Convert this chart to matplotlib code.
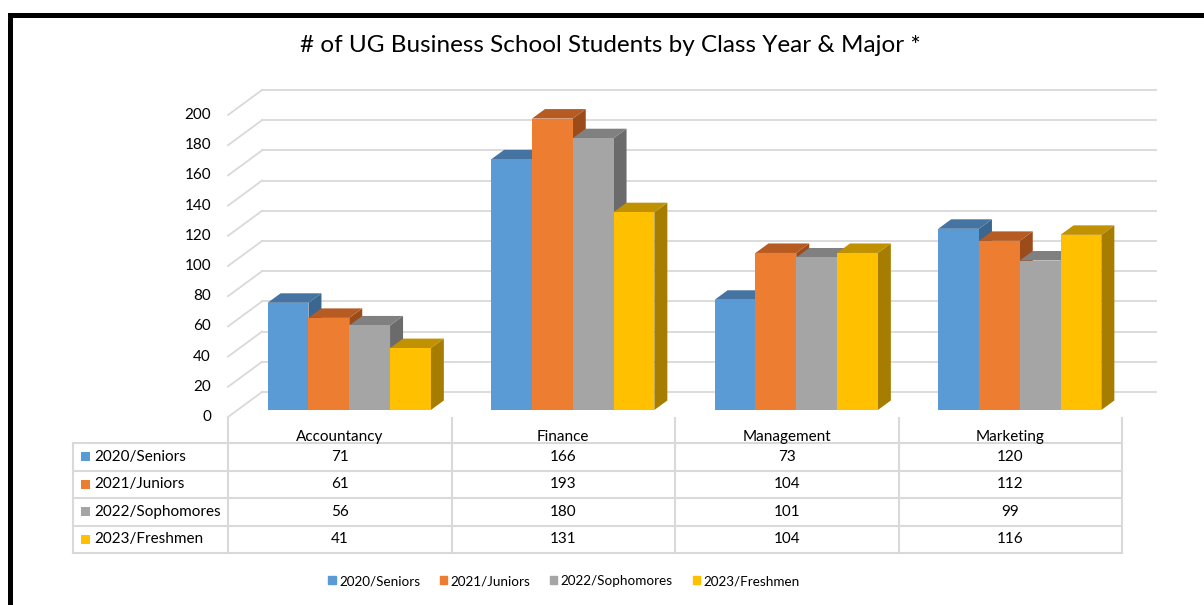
import numpy as np
import matplotlib
matplotlib.use('Agg')
import matplotlib.pyplot as plt
from matplotlib.patches import Polygon, Patch

# data
majors = ['Accountancy', 'Finance', 'Management', 'Marketing']
classes = ['2020/Seniors', '2021/Juniors', '2022/Sophomores', '2023/Freshmen']
seniors = [71, 166, 73, 120]
juniors = [61, 193, 104, 112]
sophomores = [56, 180, 101, 99]
freshmen = [41, 131, 104, 116]
series = [seniors, juniors, sophomores, freshmen]
yticks = list(range(0, 201, 20))
title = '# of UG Business School Students by Class Year & Major *'

front_colors = ['#5B9BD5', '#ED7D31', '#A5A5A5', '#FFC000']
top_colors = ['#4674A2', '#B65C22', '#808080', '#C09100']
side_colors = ['#3A6690', '#9C4B1B', '#6B6B6B', '#A67D00']
grid_c = '#D9D9D9'

W, H = 1204, 605
plt.rcParams['font.family'] = ['Lato', 'DejaVu Sans']
fig = plt.figure(figsize=(W/100, H/100), dpi=100)

# overlay in pixel coords for table, frame
ov = fig.add_axes([0, 0, 1, 1], zorder=0)
ov.set_xlim(0, W)
ov.set_ylim(H, 0)
ov.axis('off')

# bar plane axes
ax = fig.add_axes([237.5/W, 1-410/H, 894/W, 302/H], zorder=1)
ax.set_xlim(-0.5, 3.5)
ax.set_ylim(0, 200)
ax.axis('off')

ux = 894/4      # px per category
uy = 302/200    # px per unit
back = (24.5/ux, 18/uy)
front = (-9.5/ux, -7/uy)
depth = (13/ux, 9.5/uy)
bw = 40.8/ux

# walls / gridlines
for v in yticks:
    ax.plot([-0.5+back[0], 3.5+back[0]], [v+back[1]]*2, color=grid_c, lw=1.3,
            clip_on=False, zorder=1)
    ax.plot([-0.5+front[0], -0.5+back[0]], [v+front[1], v+back[1]], color=grid_c,
            lw=1.3, clip_on=False, zorder=1)
    ax.text(-0.5+front[0]-17/ux, v+front[1], str(v), ha='right', va='center',
            fontsize=11, color='#000000')

# 3d bars
for j in range(len(majors)):
    for i, vals in enumerate(series):
        h = vals[j]
        x0 = j + (i-2)*bw
        x1 = x0 + bw
        z = 2 + i*0.1
        side = Polygon([(x1, 0), (x1+depth[0], depth[1]), (x1+depth[0], h+depth[1]), (x1, h)],
                       closed=True, fc=side_colors[i], ec='none', zorder=z, clip_on=False)
        top = Polygon([(x0, h), (x0+depth[0], h+depth[1]), (x1+depth[0], h+depth[1]), (x1, h)],
                      closed=True, fc=top_colors[i], ec='none', zorder=z, clip_on=False)
        ax.add_patch(side)
        ax.add_patch(top)
        ax.bar(x0, h, width=bw, align='edge', color=front_colors[i], zorder=z+0.05,
               clip_on=False, linewidth=0)

# data table
col_edges = [237.5 + k*ux - 9.5 for k in range(len(majors)+1)]
row_lines = [443, 470.5, 498, 525.5, 553]
tab_left = 73
for y in row_lines:
    ov.plot([tab_left, col_edges[-1]], [y, y], color=grid_c, lw=1.5)
ov.plot([tab_left, tab_left], [row_lines[0], row_lines[-1]], color=grid_c, lw=1.5)
for x in col_edges:
    ov.plot([x, x], [418, row_lines[-1]], color=grid_c, lw=1.5)
for k, m in enumerate(majors):
    cx = (col_edges[k] + col_edges[k+1]) / 2
    ov.text(cx, 437, m, ha='center', va='center', fontsize=11)
for i, (c, vals) in enumerate(zip(classes, series)):
    cy = (row_lines[i] + row_lines[i+1]) / 2
    ov.add_patch(plt.Rectangle((81, cy-4.5), 9, 9, color=front_colors[i], lw=0))
    ov.text(94, cy, c, ha='left', va='center', fontsize=11)
    for k, v in enumerate(vals):
        cx = (col_edges[k] + col_edges[k+1]) / 2
        ov.text(cx, cy, str(v), ha='center', va='center', fontsize=11)

# frame lines
ov.plot([9.5, 9.5], [H, 14.5], color='black', lw=3.6, solid_capstyle='projecting')
ov.plot([9.5, W], [14.5, 14.5], color='black', lw=3.6, solid_capstyle='projecting')

fig.text(610/W, 1-45/H, title, ha='center', va='center', fontsize=17.5)

handles = [Patch(color=c) for c in front_colors]
fig.legend(handles, classes, loc='center', bbox_to_anchor=(564/W, 1-581/H), ncol=4,
           frameon=False, fontsize=9.7, handlelength=0.55, handleheight=0.55,
           handletextpad=0.25, columnspacing=1.45)

fig.savefig('out.png', dpi=100)
